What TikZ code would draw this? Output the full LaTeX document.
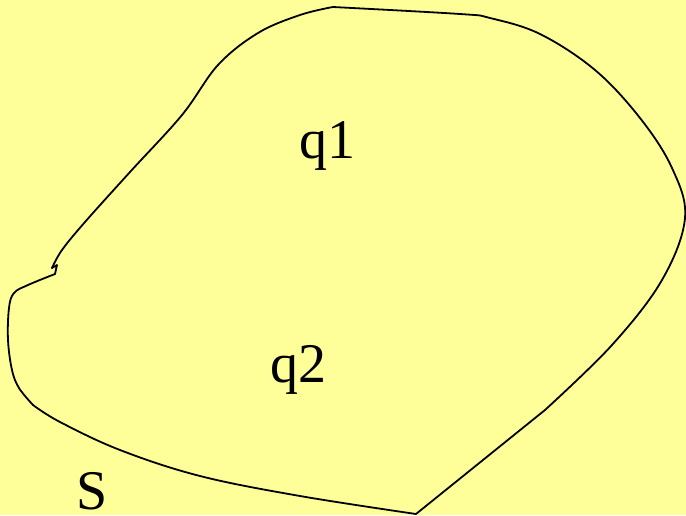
\documentclass[tikz,border=0pt]{standalone}
\usepackage{fontspec}
\setmainfont{Liberation Serif}
\definecolor{bgyellow}{HTML}{FFFF99}
\begin{document}
\begin{tikzpicture}[x=1pt,y=-1pt,
  outline/.style={line width=1.8pt,line join=round,line cap=round},
  lbl/.style={font=\fontsize{56}{60}\selectfont,inner sep=0pt}]
\fill[bgyellow] (0,0) rectangle (686,515);
\useasboundingbox (0,0) rectangle (686,515);
\draw[outline] (416,514) -- (545,410);
\draw[outline] plot[smooth,tension=0.6] coordinates {(545,410) (612,345) (662,280) (685,218) (672,168) (640,118) (595,70) (540,34) (490,18) (460,14) (333,7)};
\draw[outline] plot[smooth,tension=0.6] coordinates {(333,7) (300,15) (258,33) (218,65) (182,115) (130,172) (85,222) (62,250) (52,268)};
\draw[outline] (52,268) -- (57,265) -- (55,274);
\draw[outline] plot[smooth,tension=0.6] coordinates {(55,274) (28,285) (14,293) (9,308) (8,340) (12,370) (19,388) (33,405)};
\draw[outline] plot[smooth,tension=0.6] coordinates {(33,405) (60,422) (120,450) (200,476) (300,496) (416,514)};
\node[lbl] (q1) at (327,146) {q1};
\node[lbl] (q2) at (298,370) {q2};
\node[lbl] (S) at (92,491) {S};
\end{tikzpicture}
\end{document}
